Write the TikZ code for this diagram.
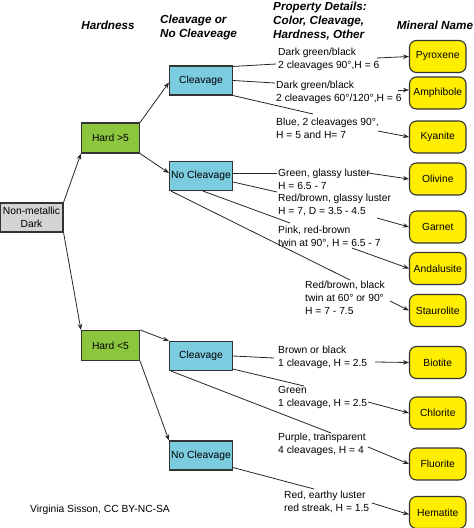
\documentclass[tikz,border=0pt]{standalone}
\usepackage{fontspec}
\setmainfont{Liberation Sans}
\usetikzlibrary{arrows.meta}
\definecolor{hardg}{HTML}{8CC63F}
\definecolor{cleavb}{HTML}{7CCCE0}
\definecolor{miny}{HTML}{FFEE00}
\definecolor{nmgray}{HTML}{D4D4D4}
\definecolor{edgec}{HTML}{333333}
\begin{document}
\begin{tikzpicture}[x=1pt,y=-1pt,
  body/.style={font=\fontsize{10.3}{12.7}\selectfont},
  hdr/.style={font=\fontsize{11.7}{14}\selectfont\bfseries\itshape, inner sep=0, align=left, anchor=north west},
  box/.style={draw=edgec, line width=1.1pt, inner sep=0, body, align=center},
  nmbox/.style={box, fill=nmgray, minimum width=63pt, minimum height=29pt},
  hardbox/.style={box, fill=hardg, minimum width=58pt, minimum height=30pt},
  clbox/.style={box, fill=cleavb, minimum width=63pt, minimum height=29pt},
  minbox/.style={box, fill=miny, rounded corners=7pt, minimum width=56.5pt, minimum height=32pt},
  prop/.style={body, inner sep=0, align=left, anchor=north west},
  conn/.style={draw=black!85, line width=0.8pt},
  arr/.style={conn, -{Stealth[length=6pt,width=4.5pt,inset=2pt]}}]
\useasboundingbox (0,0) rectangle (474,528);

% headers
\node[hdr, anchor=center] (hh) at (108,25) {Hardness};
\node[hdr] (hc) at (160,14.5) {Cleavage or\\No Cleaveage};
\node[hdr] (hp) at (273,1.5) {Property Details:\\Color, Cleavage,\\Hardness, Other};
\node[hdr, anchor=center] (hm) at (435,25) {Mineral Name};

% tree boxes
\node[nmbox] (nm) at (31.5,217.5) {Non-metallic\\Dark};
\node[hardbox] (h5) at (110.5,138) {Hard >5};
\node[hardbox] (h4) at (110.5,345.5) {Hard <5};
\node[clbox] (c1) at (201,80.5) {Cleavage};
\node[clbox] (n1) at (201,176) {No Cleavage};
\node[clbox] (c2) at (201,356) {Cleavage};
\node[clbox] (n2) at (201,455.5) {No Cleavage};

% minerals
\node[minbox] (py) at (437.75,56.5) {Pyroxene};
\node[minbox] (am) at (437.75,93) {Amphibole};
\node[minbox] (ky) at (437.75,137) {Kyanite};
\node[minbox] (ol) at (437.75,179) {Olivine};
\node[minbox] (ga) at (437.75,227) {Garnet};
\node[minbox] (an) at (437.75,268.5) {Andalusite};
\node[minbox] (st) at (437.75,310.5) {Staurolite};
\node[minbox] (bi) at (437.75,362.5) {Biotite};
\node[minbox] (ch) at (437.75,413) {Chlorite};
\node[minbox] (fl) at (437.75,464) {Fluorite};
\node[minbox] (he) at (437.75,512.5) {Hematite};

% property texts
\node[prop] (t1) at (278,48) {Dark green/black\\2 cleavages 90°,H = 6};
\node[prop] (t2) at (276,81) {Dark green/black\\2 cleavages 60°/120°,H = 6};
\node[prop] (t3) at (276,118) {Blue, 2 cleavages 90°,\\H = 5 and H= 7};
\node[prop] (t4) at (278,169) {Green, glassy luster\\H = 6.5 - 7};
\node[prop] (t5) at (278,194) {Red/brown, glassy luster\\H = 7, D = 3.5 - 4.5};
\node[prop] (t6) at (278,226) {Pink, red-brown\\twin at 90°, H = 6.5 - 7};
\node[prop] (t7) at (305,281) {Red/brown, black\\twin at 60° or 90°\\H = 7 - 7.5};
\node[prop] (t8) at (278,346) {Brown or black\\1 cleavage, H = 2.5};
\node[prop] (t9) at (278,386) {Green\\1 cleavage, H = 2.5};
\node[prop] (t10) at (278,433) {Purple, transparent\\4 cleavages, H = 4};
\node[prop] (t11) at (284,491) {Red, earthy luster\\red streak, H = 1.5};
\node[prop] (cr) at (30,505) {Virginia Sisson, CC BY-NC-SA};

% line ends near texts
\coordinate (e1) at (276,64);
\coordinate (e2) at (275,83);
\coordinate (e3) at (313,114);
\coordinate (e4) at (277,173);
\coordinate (e5) at (277,192);
\coordinate (e6) at (290,223);
\coordinate (e7) at (350,280);
\coordinate (e8) at (274,358);
\coordinate (e9) at (304,386);
\coordinate (e10) at (331,433);
\coordinate (e11) at (314,489);

% arrow starts near texts
\coordinate (s1) at (377,58);
\coordinate (s2) at (398,90);
\coordinate (s3) at (378,131);
\coordinate (s4) at (368,173);
\coordinate (s5) at (377,218);
\coordinate (s6) at (352,248);
\coordinate (s7) at (390,301);
\coordinate (s8) at (375,362);
\coordinate (s9) at (368,402);
\coordinate (s10) at (368,447);
\coordinate (s11) at (372,503);

% tree arrows
\draw[arr] (nm.north east) -- (h5.south west);
\draw[arr] (nm.south east) -- (h4.north west);
\draw[arr] (h5.north east) -- ([yshift=-2pt]c1.west);
\draw[arr] (h5.south east) -- ([yshift=3pt]n1.west);
\draw[arr] (h4.north east) -- (c2.north west);
\draw[arr] (h4.south east) -- (n2.north west);

% lines to property texts
\draw[conn] ([yshift=-1pt]c1.north east) -- (e1);
\draw[conn] (c1.east) -- (e2);
\draw[conn] (c1.south east) -- (e3);
\draw[conn] ([yshift=3pt]n1.east) -- (e4);
\draw[conn] ([yshift=-6pt]n1.east) -- (e5);
\draw[conn] ([xshift=2pt]n1.south) -- (e6);
\draw[conn] ([xshift=2pt]n1.south west) -- (e7);
\draw[conn] (c2.east) -- (e8);
\draw[conn] ([yshift=2pt]c2.south east) -- (e9);
\draw[conn] ([xshift=2pt]c2.south west) -- (e10);
\draw[conn] ([yshift=3pt]n2.south east) -- (e11);

% arrows to minerals
\draw[arr] (s1) -- (py.west);
\draw[arr] (s2) -- ([yshift=3pt]am.west);
\draw[arr] (s3) -- (ky.west);
\draw[arr] (s4) -- (ol.west);
\draw[arr] (s5) -- (ga.west);
\draw[arr] (s6) -- (an.west);
\draw[arr] (s7) -- (st.west);
\draw[arr] (s8) -- (bi.west);
\draw[arr] (s9) -- (ch.west);
\draw[arr] (s10) -- (fl.west);
\draw[arr] (s11) -- ([yshift=-2pt]he.west);
\end{tikzpicture}
\end{document}
